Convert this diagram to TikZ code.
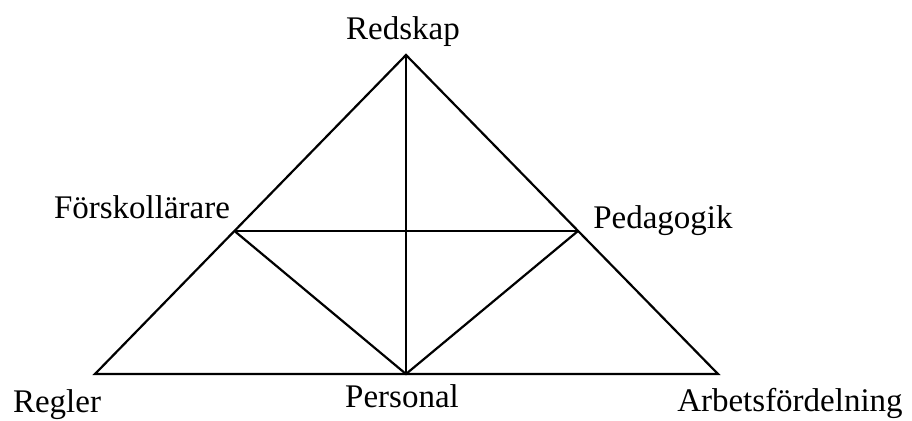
\documentclass[tikz,border=0pt]{standalone}
\usepackage{fontspec}
\setmainfont{Liberation Serif}
\usepackage{tikz}
\usetikzlibrary{positioning}

\begin{document}
\begin{tikzpicture}[x=0.5pt,y=-0.5pt,
  edge/.style={draw=black,line width=1.1pt,line join=miter},
  lbl/.style={font=\fontsize{16.5}{18}\selectfont,anchor=base,inner sep=0pt,text=black}
]
\useasboundingbox (0,0) rectangle (912,421);
% corners of the triangle
\coordinate (top) at (406,55);
\coordinate (fsk) at (234.5,231);
\coordinate (ped) at (578,231);
\coordinate (rules) at (95,374);
\coordinate (pers) at (406,374);
\coordinate (div) at (718,374);
% edges
\draw[edge] (rules) -- (top) -- (div) -- cycle;
\draw[edge] (top) -- (pers);
\draw[edge] (fsk) -- (ped);
\draw[edge] (fsk) -- (pers) -- (ped);
% labels
\node[lbl] (redskap) at (403,40) {Redskap};
\node[lbl] (forskl) at (142,219) {Förskollärare};
\node[lbl] (pedag) at (663,229) {Pedagogik};
\node[lbl] (regler) at (57,413) {Regler};
\node[lbl] (personal) at (402,408) {Personal};
\node[lbl] (arbets) at (790,412) {Arbetsfördelning};
\end{tikzpicture}
\end{document}
